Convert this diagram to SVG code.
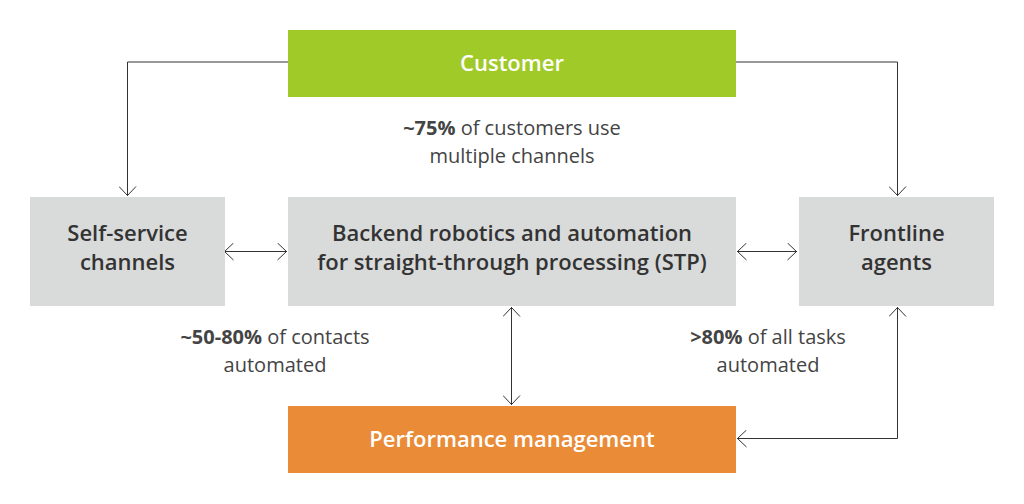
<svg xmlns="http://www.w3.org/2000/svg" width="1024" height="504" viewBox="0 0 1024 504">
<defs>
<style>
.box{fill:#d9dada}
.t{font-family:"Open Sans","Noto Sans",sans-serif;font-size:22px;font-weight:600;fill:#333;text-anchor:middle}
.w{fill:#fff}
.l{font-family:"Open Sans","Noto Sans",sans-serif;font-size:20px;font-weight:400;fill:#444;text-anchor:middle}
.b{font-weight:700}
.c{fill:none;stroke:#333;stroke-width:1}
</style>
<marker id="ah" viewBox="0 0 10 18" refX="10" refY="9" markerWidth="10" markerHeight="18" markerUnits="userSpaceOnUse" orient="auto-start-reverse">
<path d="M0.5,0.5 L9.5,9 L0.5,17.5" fill="none" stroke="#333" stroke-width="1"/>
</marker>
</defs>
<rect width="1024" height="504" fill="#fff"/>
<g id="connectors">
<path class="c" d="M288,62 H127.5 V196" marker-end="url(#ah)"/>
<path class="c" d="M736,62 H897.5 V196" marker-end="url(#ah)"/>
<path class="c" d="M224,251.5 H287" marker-start="url(#ah)" marker-end="url(#ah)"/>
<path class="c" d="M737,251.5 H797" marker-start="url(#ah)" marker-end="url(#ah)"/>
<path class="c" d="M511.5,307 V405" marker-start="url(#ah)" marker-end="url(#ah)"/>
<path class="c" d="M897.5,307 V438.5 H737" marker-start="url(#ah)" marker-end="url(#ah)"/>
</g>
<g id="customer">
<rect x="288" y="30" width="448" height="67" fill="#9fca27"/>
<text class="t w" x="512" y="71">Customer</text>
</g>
<g id="self-service">
<rect class="box" x="30" y="197" width="195" height="109"/>
<text class="t" x="127.5" y="241">Self-service</text>
<text class="t" x="127.5" y="270">channels</text>
</g>
<g id="backend">
<rect class="box" x="288" y="197" width="448" height="109"/>
<text class="t" x="512" y="241">Backend robotics and automation</text>
<text class="t" x="512" y="270">for straight-through processing (STP)</text>
</g>
<g id="frontline">
<rect class="box" x="799" y="197" width="195" height="109"/>
<text class="t" x="896.5" y="241">Frontline</text>
<text class="t" x="896.5" y="270">agents</text>
</g>
<g id="performance">
<rect x="288" y="406" width="448" height="67" fill="#e98b37"/>
<text class="t w" x="512" y="447">Performance management</text>
</g>
<g id="labels">
<text class="l" x="512" y="135"><tspan class="b">~75%</tspan> of customers use</text>
<text class="l" x="512" y="163">multiple channels</text>
<text class="l" x="275" y="344"><tspan class="b">~50-80%</tspan> of contacts</text>
<text class="l" x="275" y="372">automated</text>
<text class="l" x="768" y="344"><tspan class="b">&gt;80%</tspan> of all tasks</text>
<text class="l" x="768" y="372">automated</text>
</g>
</svg>
